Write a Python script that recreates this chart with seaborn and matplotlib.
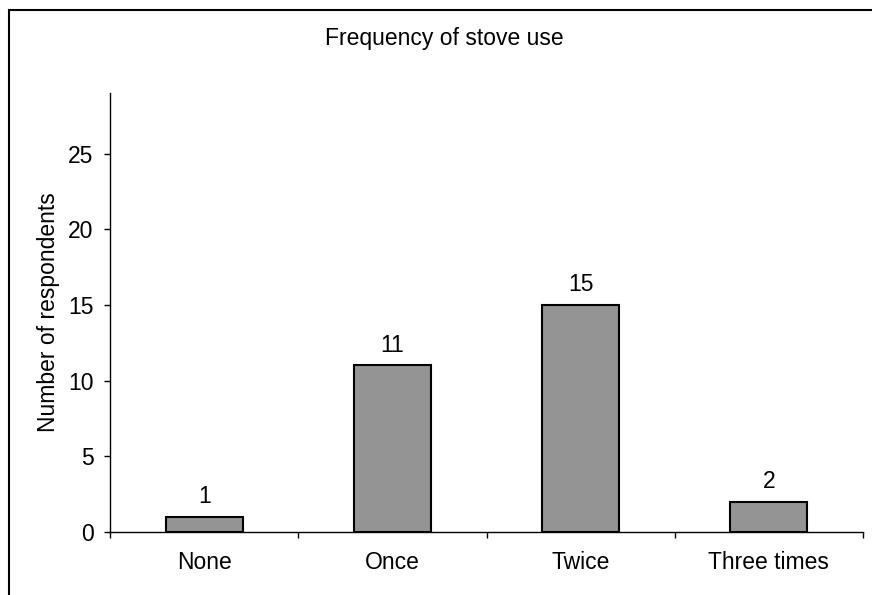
import matplotlib
matplotlib.use("Agg")
import matplotlib.pyplot as plt
import seaborn as sns
import pandas as pd
import numpy as np
from matplotlib.patches import Rectangle

categories = ["None", "Once", "Twice", "Three times"]
respondents = [1, 11, 15, 2]
y_ticks = [0, 5, 10, 15, 20, 25]
title = "Frequency of stove use"
y_label = "Number of respondents"

sns.set_theme(style="white")
plt.rcParams["font.family"] = ["Liberation Sans", "DejaVu Sans"]

FS = 16.5
df = pd.DataFrame({"category": categories, "count": respondents})

fig = plt.figure(figsize=(8.72, 5.95), dpi=100)
ax = fig.add_axes([110/872, 63/595, (863-110)/872, (532-93)/595])

sns.barplot(data=df, x="category", y="count", ax=ax, color="#949494",
            width=0.41, edgecolor="black", linewidth=1.5, saturation=1)

ax.set_xlim(-0.5, len(categories) - 0.5)
ax.set_ylim(0, 29)
ax.set_yticks(y_ticks)
ax.set_xlabel("")
ax.set_ylabel(y_label, fontsize=FS, color="black", labelpad=6)

for i, v in enumerate(respondents):
    ax.annotate(str(v), (i, v), xytext=(0, 10), textcoords="offset points",
                ha="center", va="baseline", fontsize=FS, color="black")

for s in ["top", "right"]:
    ax.spines[s].set_visible(False)
for s in ["left", "bottom"]:
    ax.spines[s].set_color("black")
    ax.spines[s].set_linewidth(1.0)

ax.tick_params(axis="y", which="major", direction="out", length=4.3, width=1,
               color="black", labelsize=FS, labelcolor="black", pad=7.5, left=True)
ax.tick_params(axis="x", which="major", length=0, labelsize=FS,
               labelcolor="black", pad=14)
ax.set_xticks(np.arange(-0.5, len(categories), 1.0), minor=True)
ax.tick_params(axis="x", which="minor", direction="out", length=4.3, width=1,
               color="black", bottom=True)

fig.text(444/872, 1 - 45/595, title, ha="center", va="baseline",
         fontsize=FS, color="black")

fig.patches.append(Rectangle((9/872, -0.05), 1.1, 1 - 10/595 + 0.05,
                             transform=fig.transFigure, fill=False,
                             edgecolor="black", linewidth=1.5, zorder=10))

fig.savefig("out.png", dpi=100)
